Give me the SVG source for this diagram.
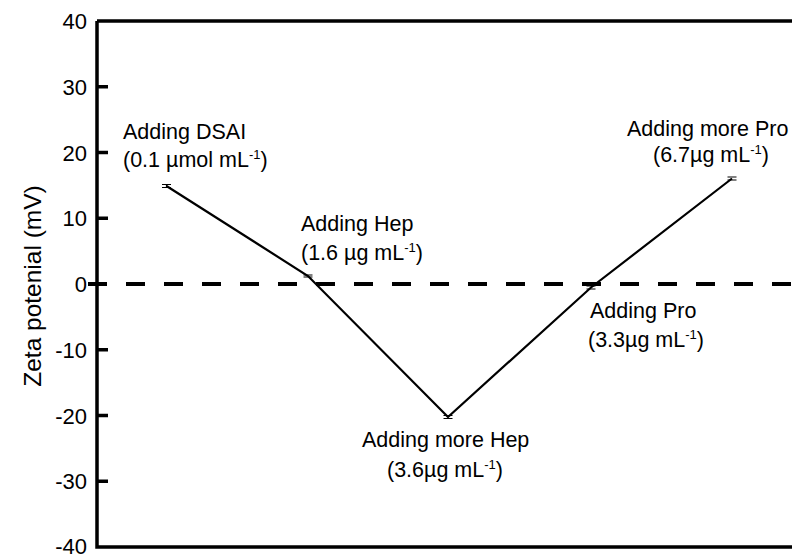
<svg xmlns="http://www.w3.org/2000/svg" width="792" height="554" viewBox="0 0 792 554">
<style>
text{font-family:"Liberation Sans",Arial,sans-serif;fill:#000}
.lbl{font-size:21.5px}
.tick{font-size:22px;text-anchor:end}
.sup{font-size:13px}
.ax{stroke:#000;stroke-width:3.5;fill:none}
.eb{stroke:#000;stroke-width:1.2}
</style>
<rect width="792" height="554" fill="#fff"/>
<g id="axes">
<path class="ax" d="M97,21 H792 M97,21 V547 H792"/>
<path class="ax" d="M97,86.75 h11 M97,152.5 h11 M97,218.25 h11 M97,349.75 h11 M97,415.5 h11 M97,481.25 h11"/>
<g>
<text class="tick" x="87" y="29">40</text>
<text class="tick" x="87" y="94.75">30</text>
<text class="tick" x="87" y="160.5">20</text>
<text class="tick" x="87" y="226.25">10</text>
<text class="tick" x="87" y="292">0</text>
<text class="tick" x="87" y="357.75">-10</text>
<text class="tick" x="87" y="423.5">-20</text>
<text class="tick" x="87" y="489.25">-30</text>
<text class="tick" x="87" y="554">-40</text>
</g>
<text x="41" y="286" font-size="24.5" text-anchor="middle" transform="rotate(-90 41 286)">Zeta potenial (mV)</text>
</g>
<line id="zero" x1="88" y1="284" x2="800" y2="284" stroke="#000" stroke-width="4" stroke-dasharray="19 19"/>
<g id="connectors">
<polyline points="166.5,186 308,276 448,417 591,287.5 732,178.5" fill="none" stroke="#000" stroke-width="2.2"/>
</g>
<g id="p1">
<path class="eb" d="M162,184.5 h9 M162,187.5 h9 M166.5,184.5 v3"/>
<text class="lbl" x="123" y="139">Adding DSAI</text>
<text class="lbl" x="123" y="167">(0.1 µmol mL<tspan class="sup" dy="-8">-1</tspan><tspan dy="8">)</tspan></text>
</g>
<g id="p2">
<path class="eb" d="M303.5,275 h9 M303.5,277 h9"/>
<text class="lbl" x="301" y="231">Adding Hep</text>
<text class="lbl" x="301" y="260">(1.6 µg mL<tspan class="sup" dy="-8">-1</tspan><tspan dy="8">)</tspan></text>
</g>
<g id="p3">
<path class="eb" d="M443.5,415.5 h9 M443.5,418.5 h9"/>
<text class="lbl" x="362" y="447">Adding more Hep</text>
<text class="lbl" x="387" y="477">(3.6µg mL<tspan class="sup" dy="-8">-1</tspan><tspan dy="8">)</tspan></text>
</g>
<g id="p4">
<path class="eb" d="M586.5,286 h9 M586.5,289 h9"/>
<text class="lbl" x="590" y="318">Adding Pro</text>
<text class="lbl" x="588" y="347">(3.3µg mL<tspan class="sup" dy="-8">-1</tspan><tspan dy="8">)</tspan></text>
</g>
<g id="p5">
<path class="eb" d="M727.5,177 h9 M727.5,180 h9"/>
<text class="lbl" x="627" y="136">Adding more Pro</text>
<text class="lbl" x="653" y="162">(6.7µg mL<tspan class="sup" dy="-8">-1</tspan><tspan dy="8">)</tspan></text>
</g>
</svg>
